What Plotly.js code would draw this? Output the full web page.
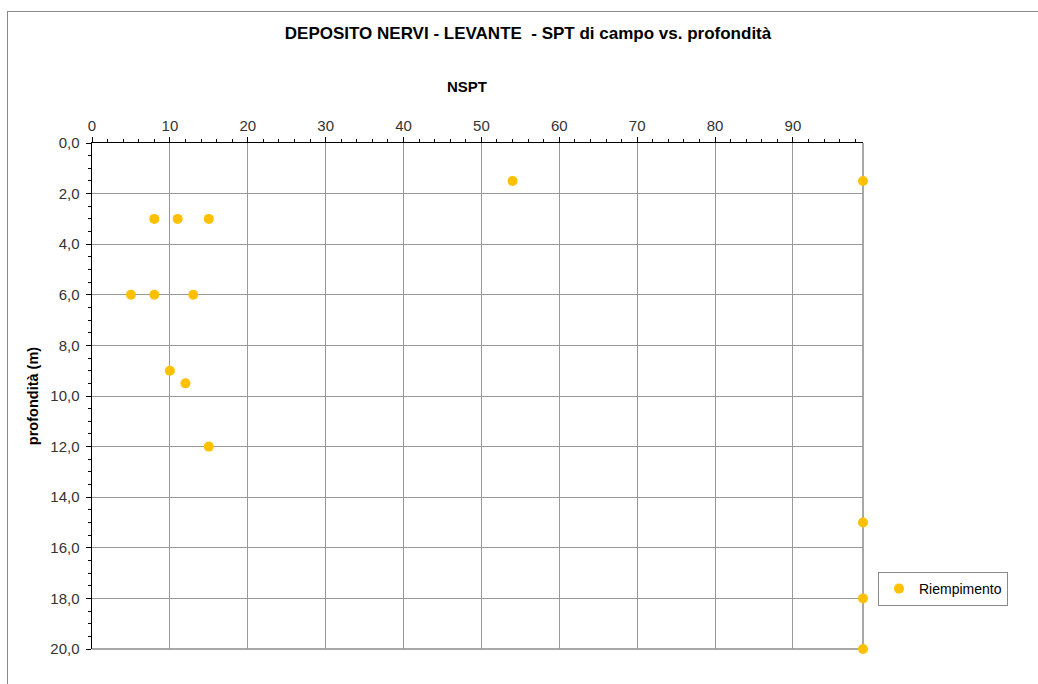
<!DOCTYPE html>
<html>
<head>
<meta charset="utf-8">
<script src="https://cdn.plot.ly/plotly-3.0.1.min.js"></script>
<style>
  html, body { margin: 0; padding: 0; background: #fff; }
  #wrap { position: relative; width: 1038px; height: 684px; overflow: hidden; }
  #chart { position: absolute; left: 0; top: 0; width: 1038px; height: 684px; }
  #frame { position: absolute; left: 7px; top: 11px; width: 1100px; height: 700px;
           border: 1px solid #8a8a8a; pointer-events: none; }
</style>
</head>
<body>
<div id="wrap">
  <div id="chart"></div>
  <div id="frame"></div>
</div>
<script>
// Data: NSPT (field SPT blow count) vs depth (m)
const seriesName = "Riempimento";
const nspt  = [54, 99, 8, 11, 15, 5, 8, 13, 10, 12, 15, 99, 99, 99];
const depth = [1.5, 1.5, 3, 3, 3, 6, 6, 6, 9, 9.5, 12, 15, 18, 20];

const chartTitle = "DEPOSITO NERVI - LEVANTE  - SPT di campo vs. profondità";
const xTitle = "NSPT";
const yTitle = "profondità (m)";

const W = 1038, H = 684;
const L = 92, R = 175, T = 143, B = 35;

const font = "Liberation Sans, Arial, sans-serif";

const trace = {
  type: "scatter",
  mode: "markers",
  name: seriesName,
  x: nspt,
  y: depth,
  cliponaxis: false,
  marker: { color: "#FFC000", size: 10, line: { width: 0 } }
};

const layout = {
  width: W, height: H,
  margin: { l: L, r: R, t: T, b: B, pad: 0 },
  paper_bgcolor: "#ffffff",
  plot_bgcolor: "#ffffff",
  separators: ",.",
  font: { family: font, color: "#222", size: 13 },
  showlegend: true,
  title: {
    text: "<b>" + chartTitle + "</b>",
    font: { family: font, size: 17, color: "#000" },
    xref: "container", yref: "container",
    x: 528 / W, xanchor: "center",
    y: 1 - 33 / H, yanchor: "middle"
  },
  xaxis: {
    side: "top",
    range: [0, 99],
    tick0: 0, dtick: 10,
    ticks: "outside", ticklen: 5, tickwidth: 1, tickcolor: "#000",
    showline: true, linecolor: "#000", linewidth: 1.5,
    showgrid: true, gridcolor: "#999999", gridwidth: 1,
    zeroline: false,
    tickfont: { family: font, size: 15, color: "#333" },
    minor: { dtick: 2, ticks: "outside", ticklen: 3, tickcolor: "#000", tickwidth: 1, showgrid: false },
    fixedrange: true
  },
  yaxis: {
    range: [20, 0],
    tick0: 0, dtick: 2,
    tickformat: ".1f",
    ticks: "outside", ticklen: 5, tickwidth: 1, tickcolor: "#000",
    ticklabelstandoff: 3,
    showline: true, linecolor: "#000", linewidth: 1.5,
    showgrid: true, gridcolor: "#999999", gridwidth: 1,
    zeroline: false,
    tickfont: { family: font, size: 15, color: "#333" },
    minor: { dtick: 0.5, ticks: "outside", ticklen: 3, tickcolor: "#000", tickwidth: 1, showgrid: false },
    title: { text: "<b>" + yTitle + "</b>", font: { family: font, size: 14.5, color: "#000" }, standoff: 8 },
    fixedrange: true
  },
  legend: {
    x: (878 - L) / (W - L - R), xanchor: "left",
    y: (H - B - 572) / (H - T - B), yanchor: "top",
    bordercolor: "#8a8a8a", borderwidth: 1,
    bgcolor: "#ffffff",
    font: { family: font, size: 14, color: "#000" },
    itemwidth: 30
  },
  shapes: [
    { type: "line", xref: "x domain", yref: "y domain", x0: 1, x1: 1, y0: 0, y1: 1,
      line: { color: "#8a8a8a", width: 1.5 }, layer: "below" },
    { type: "line", xref: "x domain", yref: "y domain", x0: 0, x1: 1, y0: 0, y1: 0,
      line: { color: "#8a8a8a", width: 1.5 }, layer: "below" }
  ],
  annotations: [
    { text: "<b>" + xTitle + "</b>", xref: "paper", yref: "paper",
      x: (467 - L) / (W - L - R), y: (H - B - 86) / (H - T - B),
      xanchor: "center", yanchor: "middle", showarrow: false,
      font: { family: font, size: 15, color: "#000" } }
  ]
};

Plotly.newPlot("chart", [trace], layout, { displayModeBar: false, staticPlot: true });
</script>
</body>
</html>
